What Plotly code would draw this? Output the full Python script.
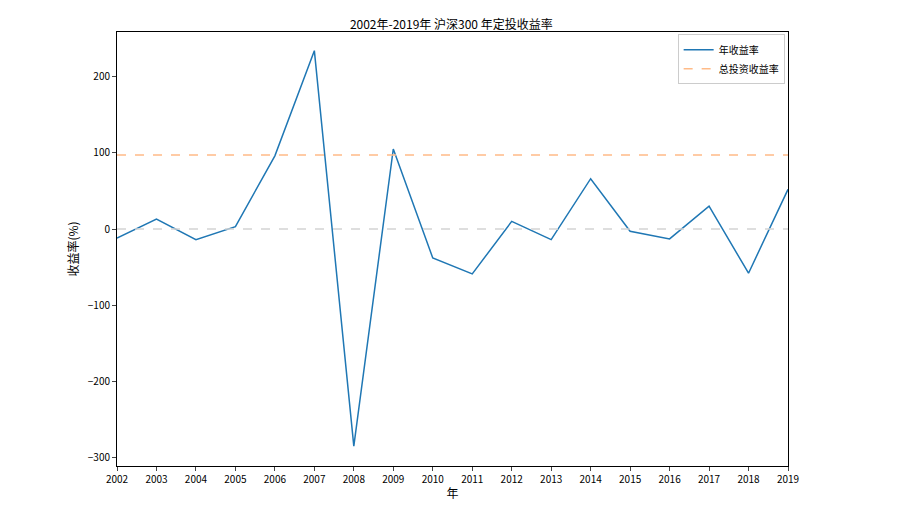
import plotly.graph_objects as go

years = list(range(2002, 2020))
annual_return = [-12, 13, -14, 3, 96, 234, -285, 105, -38, -59, 10, -14, 66, -3, -13, 30, -58, 52]
total_return = 97

fig = go.Figure()
fig.add_trace(go.Scatter(x=years, y=annual_return, mode="lines", name="年收益率",
                         line=dict(color="#1f77b4", width=1.5)))
fig.add_trace(go.Scatter(x=[years[0], years[-1]], y=[total_return, total_return], mode="lines",
                         name="总投资收益率", line=dict(color="#ffbb88", width=1.5, dash="dash")))
fig.add_trace(go.Scatter(x=[years[0], years[-1]], y=[0, 0], mode="lines", showlegend=False,
                         line=dict(color="#d3d3d3", width=1.5, dash="dash"), hoverinfo="skip"))

fig.update_layout(
    width=914, height=511,
    margin=dict(l=109, r=134, t=24, b=53, autoexpand=False),
    plot_bgcolor="white", paper_bgcolor="white",
    font=dict(family="Noto Sans CJK SC", size=10, color="black"),
    title=dict(text="2002年-2019年 沪深300 年定投收益率", x=0.485, xanchor="center",
               yref="container", y=0.975, font=dict(size=12)),
    showlegend=True,
    legend=dict(x=0.995, y=0.995, xanchor="right", yanchor="top",
                bordercolor="#cccccc", borderwidth=1, bgcolor="white"),
    xaxis=dict(title=dict(text="年", standoff=4), range=[2002, 2019], tickmode="array",
               tickvals=years, showgrid=False, zeroline=False, showline=True, automargin=False,
               linecolor="black", mirror=True, ticks="outside", ticklen=4),
    yaxis=dict(title=dict(text="收益率(%)", standoff=6), range=[-311, 258.5],
               tickvals=[-300, -200, -100, 0, 100, 200], showgrid=False, zeroline=False,
               automargin=False, showline=True, linecolor="black", mirror=True,
               ticks="outside", ticklen=4),
)

fig.write_html("out.html")
